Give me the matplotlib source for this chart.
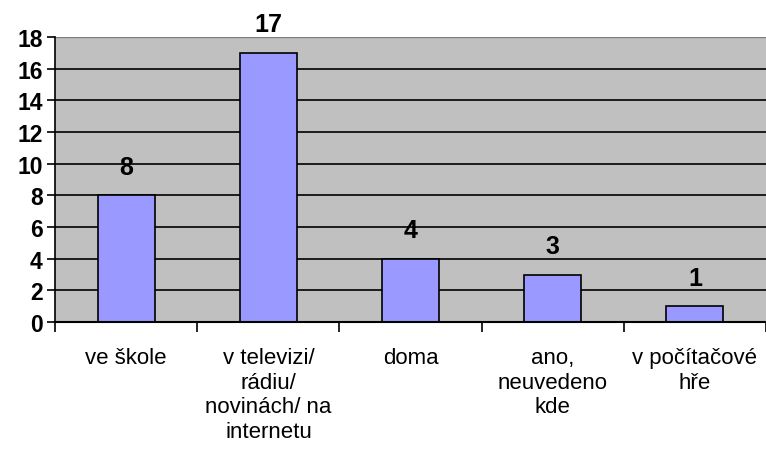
import matplotlib
matplotlib.use('Agg')
import matplotlib.pyplot as plt
import numpy as np

plt.rcParams['font.family'] = ['Liberation Sans', 'DejaVu Sans']

categories = ['ve škole', 'v televizi/\nrádiu/\nnovinách/ na\ninternetu', 'doma',
              'ano,\nneuvedeno\nkde', 'v počítačové\nhře']
values = [8, 17, 4, 3, 1]
y_ticks = list(range(0, 19, 2))

fig = plt.figure(figsize=(7.66, 4.52), dpi=100)
ax = fig.add_axes([0.072, 0.285, 0.928, 0.631])
ax.set_facecolor('#c0c0c0')

x = np.arange(len(categories))
bars = ax.bar(x, values, width=0.4, color='#9999ff', edgecolor='black',
              linewidth=1.2, zorder=3)

ax.set_xlim(-0.5, len(categories) - 0.5)
ax.set_ylim(0, 18)
ax.set_yticks(y_ticks)
ax.set_yticklabels([str(t) for t in y_ticks], fontsize=16.5, fontweight='bold')
for t in y_ticks[1:-1]:
    ax.axhline(t, color='black', linewidth=1.2, zorder=1)
ax.axhline(18, color='#808080', linewidth=1, zorder=1)

ax.set_xticks(x)
ax.set_xticklabels(categories, fontsize=16, linespacing=1.22, va='top')
ax.set_xticks(np.arange(len(categories) + 1) - 0.5, minor=True)
ax.tick_params(axis='x', which='major', length=0, pad=18)
ax.tick_params(axis='x', which='minor', length=7, width=1.2, direction='out')
ax.tick_params(axis='y', length=6, width=1.2, direction='out', pad=3)

for s in ['top', 'right']:
    ax.spines[s].set_visible(False)
ax.spines['left'].set_linewidth(1.2)
ax.spines['bottom'].set_linewidth(1.5)
ax.spines['bottom'].set_zorder(4)

for xi, v in zip(x, values):
    ax.annotate(str(v), (xi, v), xytext=(0, 12), textcoords='offset points',
                ha='center', va='bottom', fontsize=18, fontweight='bold')

fig.savefig('out.png', dpi=100)
